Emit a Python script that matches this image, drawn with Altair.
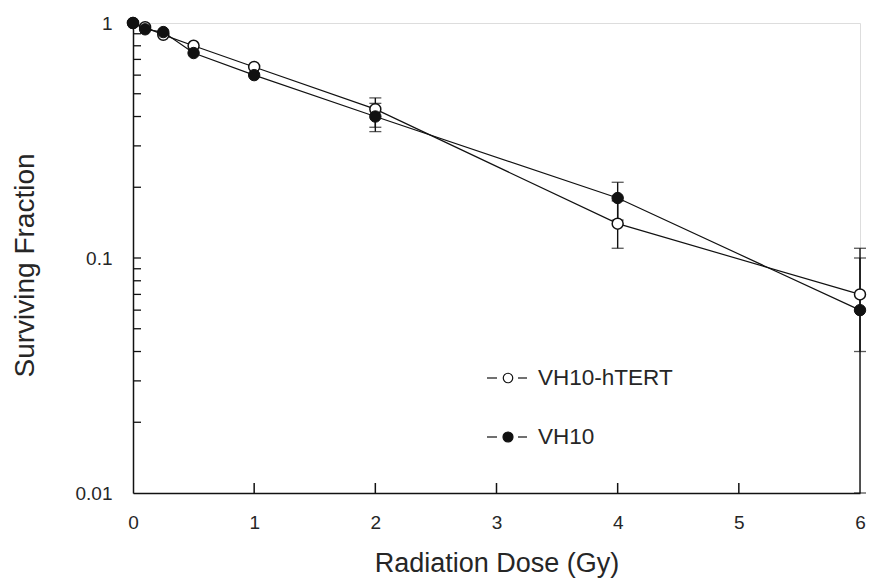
import altair as alt
import pandas as pd

# ---- data ----
dose = [0, 0.1, 0.25, 0.5, 1, 2, 4, 6]
sf_htert = [1.0, 0.96, 0.89, 0.80, 0.65, 0.43, 0.14, 0.07]
sf_vh10 = [1.0, 0.94, 0.915, 0.745, 0.60, 0.40, 0.18, 0.06]

err_dose = [2, 4, 6]
htert_lo = [0.36, 0.11, 0.04]
htert_hi = [0.48, 0.175, 0.10]
vh10_lo = [0.345, 0.145, 0.01]
vh10_hi = [0.455, 0.21, 0.11]

x_ticks = [0, 1, 2, 3, 4, 5, 6]
y_labels = [0.01, 0.1, 1]
y_minor = [0.02, 0.03, 0.04, 0.05, 0.06, 0.07, 0.08, 0.09,
           0.1, 0.2, 0.3, 0.4, 0.5, 0.6, 0.7, 0.8, 0.9]
x_minor = [1, 2, 3, 4, 5]
legend_labels = ["VH10-hTERT", "VH10"]

FONT = "Liberation Sans"
TXT = "#262626"

df_h = pd.DataFrame({"dose": dose, "sf": sf_htert})
df_v = pd.DataFrame({"dose": dose, "sf": sf_vh10})
df_eh = pd.DataFrame({"dose": err_dose, "lo": htert_lo, "hi": htert_hi})
df_ev = pd.DataFrame({"dose": err_dose, "lo": vh10_lo, "hi": vh10_hi})
df_err = pd.concat([df_eh, df_ev])
df_yt = pd.DataFrame({"v": y_minor})
df_xt = pd.DataFrame({"v": x_minor})

W, H = 727, 470

xs = alt.Scale(domain=[0, 6], nice=False, zero=False)
ys = alt.Scale(type="log", domain=[0.01, 1], nice=False)

x_axis = alt.Axis(values=x_ticks, format="d", ticks=False, grid=False,
                  domainColor="#111", domainWidth=1.5, labelFont=FONT,
                  labelFontSize=19, labelColor=TXT, labelPadding=20,
                  title="Radiation Dose (Gy)", titleFont=FONT,
                  titleFontSize=27, titleFontWeight="normal", titleColor=TXT,
                  titleY=70, titleBaseline="middle", labelFlush=False)
y_axis = alt.Axis(values=y_labels, format="~g", ticks=False, grid=False,
                  domainColor="#111", domainWidth=1.5, labelFont=FONT,
                  labelFontSize=19, labelColor=TXT, labelPadding=21,
                  title="Surviving Fraction", titleFont=FONT, titleFontSize=28,
                  titleFontWeight="normal", titleColor=TXT, titleX=-108,
                  titleY=242, titleBaseline="middle", labelFlush=False)

base_x = alt.X("dose:Q", scale=xs, axis=x_axis)
base_y = alt.Y("sf:Q", scale=ys, axis=y_axis)

line_h = alt.Chart(df_h).mark_line(color="#111", strokeWidth=1.2).encode(
    x=base_x, y=base_y, order="dose:Q")
line_v = alt.Chart(df_v).mark_line(color="#111", strokeWidth=1.2).encode(
    x=alt.X("dose:Q", scale=xs), y=alt.Y("sf:Q", scale=ys), order="dose:Q")

err_rule = alt.Chart(df_err).mark_rule(color="#111", strokeWidth=1.4).encode(
    x=alt.X("dose:Q", scale=xs), y=alt.Y("lo:Q", scale=ys), y2="hi:Q")
cap_lo = alt.Chart(df_err).mark_tick(color="#111", orient="horizontal", size=12,
                                     thickness=1.3).encode(
    x=alt.X("dose:Q", scale=xs), y=alt.Y("lo:Q", scale=ys))
cap_hi = alt.Chart(df_err).mark_tick(color="#111", orient="horizontal", size=12,
                                     thickness=1.3).encode(
    x=alt.X("dose:Q", scale=xs), y=alt.Y("hi:Q", scale=ys))

pts_h = alt.Chart(df_h).mark_point(shape="circle", filled=True, fill="white",
                                   stroke="#111", strokeWidth=1.5, size=120,
                                   opacity=1).encode(
    x=alt.X("dose:Q", scale=xs), y=alt.Y("sf:Q", scale=ys))
pts_v = alt.Chart(df_v).mark_point(shape="circle", filled=True, fill="#111",
                                   stroke="#111", strokeWidth=1, size=130,
                                   opacity=1).encode(
    x=alt.X("dose:Q", scale=xs), y=alt.Y("sf:Q", scale=ys))

# inward ticks
ytick = alt.Chart(df_yt).mark_rule(color="#111", strokeWidth=1.3).encode(
    y=alt.Y("v:Q", scale=ys), x=alt.value(0), x2=alt.value(8))
xtick = alt.Chart(df_xt).mark_rule(color="#111", strokeWidth=1.5).encode(
    x=alt.X("v:Q", scale=xs), y=alt.value(H), y2=alt.value(H - 10))

# manual legend (one row per item so nothing is overdrawn)
leg = []
for i, (lab, filled) in enumerate(zip(legend_labels, [False, True])):
    yy = 355 + i * 59
    one = pd.DataFrame({"label": [lab]})
    leg.append(alt.Chart(one).mark_rule(color="#111", strokeWidth=1.2).encode(
        x=alt.value(354), x2=alt.value(364), y=alt.value(yy)))
    leg.append(alt.Chart(one).mark_rule(color="#111", strokeWidth=1.2).encode(
        x=alt.value(385), x2=alt.value(394), y=alt.value(yy)))
    leg.append(alt.Chart(one).mark_point(
        shape="circle", filled=True, fill="#111" if filled else "white",
        stroke="#111", strokeWidth=1.2, size=100 if filled else 90, opacity=1).encode(
        x=alt.value(375), y=alt.value(yy)))
    leg.append(alt.Chart(one).mark_text(
        align="left", baseline="middle", font=FONT, fontSize=22.5,
        fontWeight="normal", color=TXT).encode(
        text="label:N", x=alt.value(405), y=alt.value(yy)))

chart = alt.layer(line_h, line_v, err_rule, cap_lo, cap_hi, pts_h, pts_v,
                  ytick, xtick, *leg).properties(
    width=W, height=H,
    padding={"left": 133, "top": 23, "right": 9, "bottom": 88},
    autosize=alt.AutoSizeParams(type="none"),
).configure_view(stroke=None).configure(background="white")

chart.save("out.html", embed_options={"renderer": "svg", "actions": False})
